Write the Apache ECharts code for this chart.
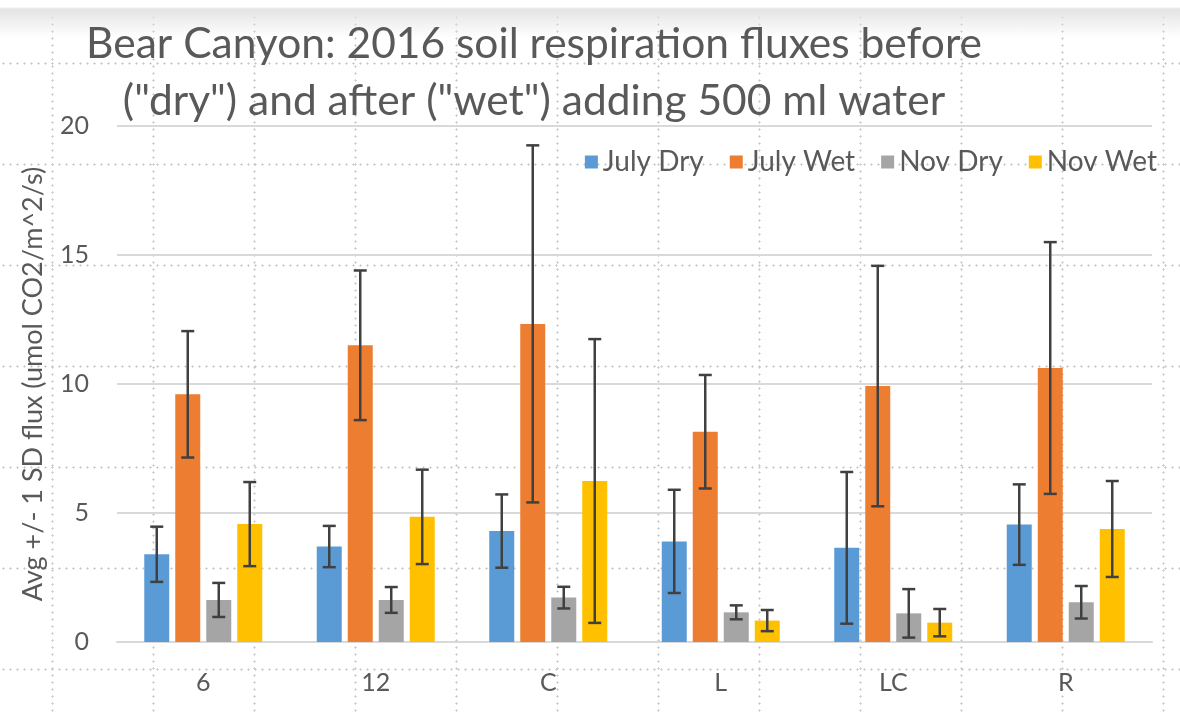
<!DOCTYPE html>
<html>
<head>
<meta charset="utf-8">
<script src="https://cdn.jsdelivr.net/npm/echarts@6/dist/echarts.min.js"></script>
<style>
  html, body { margin: 0; padding: 0; }
  #chart {
    width: 1180px; height: 715px;
    background-color: #fff;
    background-image:
      linear-gradient(to bottom, #fff 0, #fff 7px, #e4e4e4 9px, rgba(255,255,255,0) 38px),
      radial-gradient(circle, #c8c8c8 0.9px, rgba(255,255,255,0) 1.2px),
      radial-gradient(circle, #c8c8c8 0.9px, rgba(255,255,255,0) 1.2px);
    background-size: 100% 40px, 7px 101px, 101px 7px;
    background-position: 0 0, 0 13px, 2px 0;
    background-repeat: no-repeat, repeat, repeat;
  }
</style>
</head>
<body>
<div id="chart"></div>
<script>
const categories = ['6', '12', 'C', 'L', 'LC', 'R'];
const seriesNames = ['July Dry', 'July Wet', 'Nov Dry', 'Nov Wet'];
const julyDry = [3.4, 3.7, 4.3, 3.9, 3.65, 4.55];
const julyDrySd = [1.07, 0.8, 1.42, 2.0, 2.94, 1.56];
const julyWet = [9.6, 11.5, 12.33, 8.15, 9.92, 10.62];
const julyWetSd = [2.45, 2.9, 6.92, 2.2, 4.66, 4.88];
const novDry = [1.63, 1.63, 1.72, 1.15, 1.11, 1.54];
const novDrySd = [0.66, 0.5, 0.42, 0.27, 0.94, 0.63];
const novWet = [4.57, 4.85, 6.24, 0.83, 0.75, 4.38];
const novWetSd = [1.63, 1.83, 5.5, 0.41, 0.53, 1.86];

const means = [julyDry, julyWet, novDry, novWet];
const sds = [julyDrySd, julyWetSd, novDrySd, novWetSd];
const colors = ['#5B9BD5', '#ED7D31', '#A5A5A5', '#FFC000'];
const font = 'Lato, "Open Sans", sans-serif';
const barW = 25, barStep = 31;

const bars = seriesNames.map((name, i) => ({
    name: name, type: 'bar',
    barWidth: barW, barGap: '24%',
    itemStyle: {color: colors[i]},
    data: means[i]
}));

// error bars (+/- 1 SD), drawn over the matching bar
const errBars = seriesNames.map((name, i) => ({
    name: name, type: 'custom', z: 5,
    encode: {x: 0, y: [1, 2]},
    data: means[i].map((m, k) => [k, m - sds[i][k], m + sds[i][k]]),
    renderItem: function (params, api) {
        const lo = api.coord([api.value(0), api.value(1)]);
        const hi = api.coord([api.value(0), api.value(2)]);
        const x = lo[0] + (i - 1.5) * barStep;
        const cap = 6.5;
        const st = {stroke: '#404040', lineWidth: 2.5};
        return {
            type: 'group',
            children: [
                {type: 'line', shape: {x1: x, y1: hi[1], x2: x, y2: lo[1]}, style: st},
                {type: 'line', shape: {x1: x - cap, y1: hi[1], x2: x + cap, y2: hi[1]}, style: st},
                {type: 'line', shape: {x1: x - cap, y1: lo[1], x2: x + cap, y2: lo[1]}, style: st}
            ]
        };
    }
}));

const chart = echarts.init(document.getElementById('chart'));
chart.setOption({
    backgroundColor: 'transparent',
    animation: false,
    title: {
        text: 'Bear Canyon: 2016 soil respiration fluxes before\n("dry") and after ("wet") adding 500 ml water',
        left: 529, top: 11, textAlign: 'center',
        textStyle: {fontFamily: font, fontWeight: 'normal', fontSize: 42.5, color: '#595959', lineHeight: 57}
    },
    legend: {
        data: seriesNames,
        right: 18, top: 143,
        icon: 'rect', itemWidth: 13, itemHeight: 13, itemGap: 26,
        textStyle: {fontFamily: font, fontSize: 28, color: '#595959'}
    },
    grid: {left: 117, right: 28, top: 126, bottom: 73},
    xAxis: {
        type: 'category', data: categories,
        axisLine: {lineStyle: {color: '#d9d9d9', width: 2}},
        axisTick: {show: false},
        axisLabel: {fontFamily: font, fontSize: 25, color: '#595959', margin: 28}
    },
    yAxis: {
        type: 'value', min: 0, max: 20, interval: 5,
        name: 'Avg +/- 1 SD flux (umol CO2/m^2/s)',
        nameLocation: 'middle', nameGap: 70,
        nameTextStyle: {fontFamily: font, fontSize: 27, color: '#595959'},
        axisLine: {show: false}, axisTick: {show: false},
        axisLabel: {fontFamily: font, fontSize: 25, color: '#595959', margin: 28},
        splitLine: {lineStyle: {color: '#d9d9d9', width: 2}}
    },
    series: bars.concat(errBars)
});
</script>
</body>
</html>
